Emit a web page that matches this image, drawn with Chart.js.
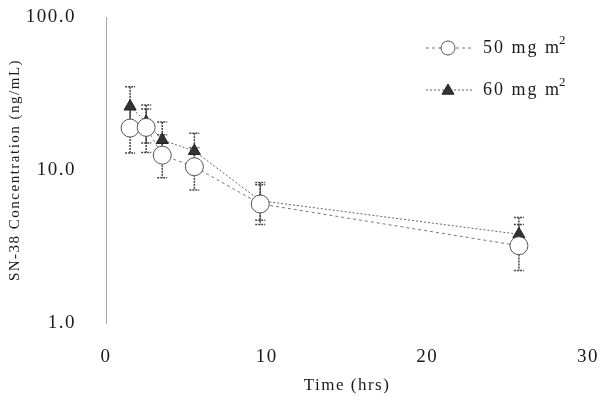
<!DOCTYPE html>
<html>
<head>
<title>SN-38 Concentration</title>
<script src="https://cdn.jsdelivr.net/npm/chart.js"></script>
<style>
  body { margin: 0; background: #fff; }
  #wrap { width: 608px; height: 404px; }
</style>
</head>
<body>
<div id="wrap"><canvas id="pkChart" width="608" height="404"></canvas></div>
<script>
// sampling times (hrs)
const times = [1.5, 2.5, 3.5, 5.5, 9.6, 25.7];
// 50 mg m2 dose: mean and error bar ends
const conc50 = [18.8, 19.0, 12.5, 10.5, 6.0, 3.2];
const hi50 = [25, 25, 17, 14, 8, 4.4];
const lo50 = [12.9, 13.0, 8.9, 7.4, 4.4, 2.2];
// 60 mg m2 dose
const conc60 = [26, 20.6, 15.7, 13.3, 6.3, 3.8];
const hi60 = [35, 26.6, 20.6, 17.4, 8.3, 4.9];
const lo60 = [19, 15, 12, 10, 4.7, 2.9];
const doseLabels = ['50 mg m', '60 mg m'];
const yTicks = [1, 10, 100];
const xTicks = [0, 10, 20, 30];

const serif = 'Liberation Serif';
const textColor = '#1a1a1a';

// vertical error bars with caps
const errorBars = {
  id: 'errorBars',
  beforeDatasetsDraw(chart) {
    const ctx = chart.ctx;
    const x = chart.scales.x, y = chart.scales.y;
    chart.data.datasets.forEach(ds => {
      ctx.save();
      ctx.strokeStyle = '#444';
      ctx.lineWidth = 1.5;
      ctx.setLineDash([2, 1]);
      ds.data.forEach((p, i) => {
        const px = x.getPixelForValue(p.x);
        const top = y.getPixelForValue(ds.errHi[i]);
        const bot = y.getPixelForValue(ds.errLo[i]);
        ctx.beginPath();
        ctx.moveTo(px, top); ctx.lineTo(px, bot);
        ctx.moveTo(px - 5, top); ctx.lineTo(px + 5, top);
        ctx.moveTo(px - 5, bot); ctx.lineTo(px + 5, bot);
        ctx.stroke();
      });
      ctx.restore();
    });
  }
};

// legend drawn by hand: line + marker + label with superscript 2
const doseLegend = {
  id: 'doseLegend',
  afterDraw(chart) {
    const ctx = chart.ctx;
    const rows = [48, 90];
    chart.data.datasets.forEach((ds, i) => {
      const yy = rows[i];
      ctx.save();
      ctx.strokeStyle = ds.borderColor;
      ctx.lineWidth = 1;
      ctx.setLineDash(ds.borderDash);
      ctx.beginPath();
      ctx.moveTo(426, yy); ctx.lineTo(472, yy);
      ctx.stroke();
      ctx.setLineDash([]);
      ctx.fillStyle = ds.pointBackgroundColor;
      ctx.strokeStyle = ds.pointBorderColor;
      ctx.lineWidth = ds.pointBorderWidth;
      ctx.beginPath();
      if (ds.pointStyle === 'triangle') {
        const r = 6;
        ctx.moveTo(448, yy - r);
        ctx.lineTo(448 + r, yy + r * 0.7);
        ctx.lineTo(448 - r, yy + r * 0.7);
        ctx.closePath();
      } else {
        ctx.arc(448, yy, 7, 0, Math.PI * 2);
      }
      ctx.fill();
      ctx.stroke();
      ctx.fillStyle = textColor;
      ctx.letterSpacing = '2px';
      ctx.font = '18px "' + serif + '"';
      ctx.textBaseline = 'middle';
      ctx.fillText(doseLabels[i], 483, yy);
      const w = ctx.measureText(doseLabels[i]).width;
      ctx.font = '13px "' + serif + '"';
      ctx.fillText('2', 481 + w, yy - 7);
      ctx.restore();
    });
  }
};

const spacing = {
  id: 'spacing',
  beforeDraw(chart) { chart.ctx.letterSpacing = '1.5px'; }
};

const toPoints = vals => vals.map((v, i) => ({ x: times[i], y: v }));

new Chart(document.getElementById('pkChart'), {
  type: 'line',
  data: {
    datasets: [{
      label: '50 mg m2',
      data: toPoints(conc50),
      errHi: hi50,
      errLo: lo50,
      borderColor: '#777',
      borderWidth: 1,
      borderDash: [3, 3],
      pointStyle: 'circle',
      pointRadius: 9,
      pointBackgroundColor: '#fff',
      pointBorderColor: '#555',
      pointBorderWidth: 1,
      tension: 0
    }, {
      label: '60 mg m2',
      data: toPoints(conc60),
      errHi: hi60,
      errLo: lo60,
      borderColor: '#666',
      borderWidth: 1,
      borderDash: [2, 2],
      pointStyle: 'triangle',
      pointRadius: 7,
      pointBackgroundColor: '#333',
      pointBorderColor: '#222',
      pointBorderWidth: 1,
      tension: 0
    }]
  },
  options: {
    responsive: false,
    animation: false,
    layout: { autoPadding: false, padding: { top: 17, right: 20, left: 0, bottom: 0 } },
    plugins: { legend: { display: false }, tooltip: { enabled: false } },
    scales: {
      x: {
        type: 'linear', min: 0, max: 30,
        afterBuildTicks: s => { s.ticks = xTicks.map(v => ({ value: v })); },
        grid: { display: false, drawTicks: false },
        border: { display: false },
        ticks: { padding: 23, color: textColor, font: { family: serif, size: 19 } },
        title: { display: true, text: 'Time (hrs)', color: textColor, font: { family: serif, size: 17 }, padding: { top: 4, bottom: 8 } },
        afterFit: s => { s.height = 81; s.paddingLeft = 0; s.paddingRight = 0; }
      },
      y: {
        type: 'logarithmic', min: 1, max: 100,
        afterBuildTicks: s => { s.ticks = yTicks.map(v => ({ value: v })); },
        grid: { display: false, drawTicks: false },
        border: { display: true, color: '#aaa', dash: [1, 1], width: 1 },
        ticks: { padding: 30, color: textColor, font: { family: serif, size: 19 }, callback: v => Number(v).toFixed(1) },
        title: { display: true, text: 'SN-38 Concentration (ng/mL)', color: textColor, font: { family: serif, size: 15 }, padding: { top: 6, bottom: 4 } },
        afterFit: s => { s.width = 106; s.paddingTop = 0; s.paddingBottom = 0; }
      }
    }
  },
  plugins: [spacing, errorBars, doseLegend]
});
</script>
</body>
</html>
